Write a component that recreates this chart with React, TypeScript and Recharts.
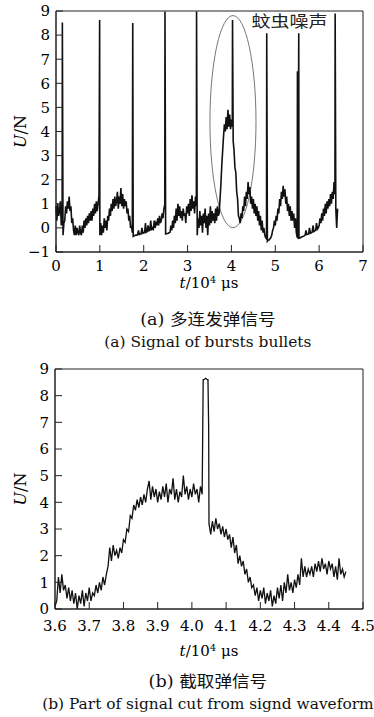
import React from 'react';
import { LineChart, Line, XAxis, YAxis, ReferenceArea, ReferenceDot } from 'recharts';

const burstStart = 0;
const burstStep = 0.02;
const burstU = [
  0.9, 0.3, 1.0, 0.5, 0.7, 1.1, 0.1, 0.4, -0.3, 0.2,
  0.3, 0.9, 0.6, 1.1, 0.8, 1.3, 0.7, 0.9, 0.2, 0.4,
  -0.1, -0.3, 0.1, -0.3, 0.0, -0.2, -0.3, 0.1, -0.2, -0.3,
  0.1, -0.2, 0.3, 0.0, 0.4, 0.1, 0.5, 0.2, 0.6, 0.3,
  0.7, 0.3, 0.8, 0.5, 1.0, 0.6, 1.1, 0.7, 1.0, 1.35,
  -0.3, 0.2, -0.3, 0.1, -0.2, 0.4, 0.0, 0.3, -0.1, 0.5,
  0.3, 0.8, 0.5, 1.0, 0.7, 1.2, 0.8, 1.3, 0.9, 1.1,
  1.5, 0.8, 1.3, 1.0, 1.65, 0.9, 1.4, 0.8, 1.2, 0.9,
  1.1, 0.6, 0.8, 0.3, 0.5, 0.0, 0.1, -0.2, -0.35, -0.33,
  -0.32, -0.3, -0.3, -0.28, -0.1, -0.27, -0.25, -0.25, 0.0, -0.22,
  -0.2, -0.2, 0.2, -0.18, -0.15, 0.1, -0.12, -0.1, 0.3, -0.1,
  0.0, -0.05, 0.3, 0.0, 0.2, 0.1, 0.4, 0.1, 0.5, 0.2,
  0.3, 0.6, 0.4, 0.8, 0.95, -0.25, -0.24, -0.23, -0.22, -0.2,
  -0.18, 0.1, -0.1, 0.3, 0.0, 0.5, 0.2, 0.8, 0.3, 1.0,
  0.5, 0.9, 0.4, 0.7, 0.3, 0.8, 0.5, 0.6, 0.2, 0.9,
  0.6, 1.0, 0.5, 1.2, 0.7, 1.35, 0.8, 1.1, 0.6, 1.3,
  0.9, -0.3, 0.4, 0.0, 0.7, 0.1, 0.5, -0.2, 0.6, 0.2,
  0.8, 0.0, 0.5, -0.3, 0.6, 0.1, 0.9, 0.2, 0.7, 0.3,
  0.6, 0.2, 0.8, 0.3, 0.9, 0.5, 0.6, 1.2, 1.8, 2.6,
  3.2, 3.8, 4.3, 4.0, 4.6, 4.1, 4.9, 4.2, 4.7, 4.1,
  4.5, 4.2, 3.6, 3.2, 2.5, 2.3, 1.5, 1.2, 0.5, 0.4,
  0.2, 0.6, 0.4, 0.9, 0.7, 1.3, 0.9, 1.5, 1.2, 1.9,
  1.4, 1.7, 1.0, 1.3, 0.8, 1.2, 0.6, 1.0, 0.5, 0.9,
  0.3, 0.7, 0.1, 0.5, -0.1, 0.3, -0.2, 0.0, -0.3, -0.4,
  -0.45, -0.55, -0.5, -0.5, -0.45, -0.4, -0.3, -0.1, 0.0, 0.3,
  0.1, 0.5, 0.3, 0.8, 0.6, 1.2, 0.9, 1.5, 1.2, 1.75,
  1.3, 1.6, 1.0, 1.3, 0.7, 1.0, 0.5, 0.9, 0.3, 0.7,
  0.3, 0.6, 0.0, 0.4, -0.2, -0.4, -0.45, -0.43, -0.42, -0.4,
  -0.38, -0.36, -0.35, -0.33, -0.3, -0.1, -0.28, -0.26, -0.25, 0.0,
  -0.22, -0.2, -0.18, 0.1, -0.15, -0.12, -0.1, 0.2, -0.05, 0.0,
  0.1, 0.4, 0.2, 0.6, 0.3, 0.8, 0.5, 1.0, 0.6, 1.1,
  0.8, 1.2, 0.9, 1.4, 1.0, 1.5, 1.2, 1.9, 1.4, 0.8,
  0.0, 0.8,
];
// bullet pulses riding on the burst trace
const pulseT = [0.145, 0.995, 1.75, 2.485, 3.205, 4.025, 4.805, 5.505, 5.535, 6.365];
const pulseU = [8.52, 8.63, 8.5, 8.98, 8.98, 8.63, 8.08, 6.5, 8.08, 8.9];

const cutStart = 3.6;
const cutStep = 0.005;
const cutU = [
  0.1, 0.3, 1.2, 0.6, 1.3, 0.7, 0.9, 0.4, 0.8, 0.3,
  0.7, 0.2, 0.6, 0.0, 0.5, 0.2, 0.7, 0.1, 0.6, 0.3,
  0.8, 0.3, 0.6, 0.5, 0.9, 0.6, 1.0, 0.7, 1.2, 0.9,
  1.3, 1.6, 2.3, 1.8, 2.4, 2.0, 2.2, 1.9, 2.3, 2.1,
  2.6, 2.5, 3.0, 2.9, 3.5, 3.4, 3.9, 3.7, 4.1, 3.8,
  4.2, 3.9, 4.3, 4.0, 4.5, 4.8, 4.1, 4.6, 4.2, 4.5,
  4.0, 4.4, 4.1, 4.6, 4.2, 4.7, 4.0, 4.5, 4.3, 4.9,
  4.1, 4.5, 4.0, 4.4, 4.2, 5.0, 4.3, 4.6, 4.1, 4.5,
  4.2, 4.7, 4.3, 4.5, 4.0, 4.6, 4.3, 8.6, 8.65, 8.6,
  3.2, 2.8, 3.3, 2.9, 3.4, 3.0, 3.2, 2.8, 3.1, 2.7,
  3.0, 2.6, 2.8, 2.3, 2.7, 2.1, 2.4, 1.7, 2.0, 1.6,
  1.8, 1.3, 1.5, 1.0, 1.2, 0.8, 0.9, 0.5, 0.8, 0.3,
  0.7, 0.4, 0.8, 0.2, 0.6, 0.3, 0.7, 0.1, 0.5, 0.2,
  0.8, 0.4, 0.9, 0.3, 1.0, 0.6, 1.3, 0.7, 1.0, 0.6,
  1.1, 0.8, 1.3, 0.9, 1.9, 1.2, 1.6, 1.2, 1.5, 1.3,
  1.6, 1.2, 1.7, 1.4, 1.8, 1.4, 1.9, 1.5, 1.7, 1.3,
  1.8, 1.5, 1.7, 1.2, 1.6, 1.1, 1.9, 1.3, 1.5, 1.2,
  1.4,
];
// square edges of the bullet pulse
const cutEdgeT = [4.033, 4.047, 4.049];
const cutEdgeU = [8.6, 8.6, 6.8];

const burstXTicks = [0, 1, 2, 3, 4, 5, 6, 7];
const burstYTicks = [-1, 0, 1, 2, 3, 4, 5, 6, 7, 8, 9];
const cutXTicks = [3.6, 3.7, 3.8, 3.9, 4.0, 4.1, 4.2, 4.3, 4.4, 4.5];
const cutYTicks = [0, 1, 2, 3, 4, 5, 6, 7, 8, 9];

// mosquito noise ring and its note
const noiseT = [3.51, 4.56];
const noiseU = [0.01, 8.81];
const noiseNoteT = 4.46;
const noiseNoteU = 8.63;
const noiseNote = '蚊虫噪声';

const captionA = ['(a) 多连发弹信号', '(a) Signal of bursts bullets'];
const captionB = ['(b) 截取弹信号', '(b) Part of signal cut from signd waveform'];

const buildSeries = (start: number, step: number, values: number[], extraT: number[], extraU: number[]) => {
  const pts = values.map((u, i) => ({ t: +(start + i * step).toFixed(4), u }));
  extraT.forEach((t, i) => pts.push({ t, u: extraU[i] }));
  return pts.sort((a, b) => a.t - b.t);
};

const burstData = buildSeries(burstStart, burstStep, burstU, pulseT, pulseU);
const cutData = buildSeries(cutStart, cutStep, cutU, cutEdgeT, cutEdgeU);

const SERIF = '"DejaVu Serif", "Liberation Serif", "DejaVu Sans", serif';
const CJK = '"DejaVu Serif", "Liberation Serif", "Noto Sans CJK SC", serif';
const INK = '#222';

const tickStyle = { fontFamily: SERIF, fontSize: 15, fill: '#000' };

const yTitle = (props: any) => {
  const vb = props.viewBox || {};
  const x = vb.x + 20;
  const cy = vb.y + vb.height / 2;
  return (
    <text
      x={x}
      y={cy}
      transform={`rotate(-90 ${x} ${cy})`}
      textAnchor="middle"
      dominantBaseline="central"
      fontFamily={SERIF}
      fontSize={16}
      fill="#000"
    >
      <tspan fontStyle="italic">U</tspan>
      <tspan>/N</tspan>
    </text>
  );
};

const XTitle = ({ top }: { top: number }) => (
  <div style={{ position: 'absolute', left: 109, top, width: 200, textAlign: 'center', fontFamily: SERIF, fontSize: 15, lineHeight: '18px', color: '#000' }}>
    <i>t</i>/10<sup style={{ fontSize: 10, verticalAlign: '5px', lineHeight: 0 }}>4</sup> μs
  </div>
);

const Caption = ({ lines, top }: { lines: string[]; top: number }) => (
  <div style={{ position: 'absolute', left: 0, top, width: 416, textAlign: 'center', fontFamily: CJK, lineHeight: '23px', color: '#111', transform: 'scaleX(1.1)', transformOrigin: '0 0', whiteSpace: 'nowrap' }}>
    <div style={{ width: 378, fontSize: 16 }}>{lines[0]}</div>
    <div style={{ width: 378, fontSize: 14 }}>{lines[1]}</div>
  </div>
);

const fmtBurst = (v: number) => (v < 0 ? `\u2212${Math.abs(v)}` : String(v));
const fmtCut = (v: number) => v.toFixed(1);

export default function App() {
  return (
    <div style={{ position: 'relative', width: 374, height: 717, background: '#fff', overflow: 'hidden' }}>
      <style>{'body{margin:0}'}</style>

      <div style={{ position: 'absolute', left: 0, top: 0 }}>
        <LineChart width={374} height={300} data={burstData} margin={{ top: 11, right: 11, bottom: 0, left: 0 }}>
          <XAxis
            dataKey="t"
            type="number"
            domain={[0, 7]}
            ticks={burstXTicks}
            interval={0}
            height={48}
            tickSize={-7}
            tickMargin={15}
            tick={tickStyle}
            axisLine={{ stroke: INK }}
            tickLine={{ stroke: INK }}
          />
          <YAxis
            type="number"
            domain={[-1, 9]}
            ticks={burstYTicks}
            interval={0}
            width={56}
            tickSize={-7}
            tickMargin={13}
            tick={tickStyle}
            tickFormatter={fmtBurst}
            axisLine={{ stroke: INK }}
            tickLine={{ stroke: INK }}
            label={{ content: yTitle }}
          />
          <ReferenceArea x1={0} x2={7} y1={-1} y2={9} fill="none" stroke={INK} strokeWidth={1} fillOpacity={0} />
          <ReferenceArea
            x1={noiseT[0]}
            x2={noiseT[1]}
            y1={noiseU[0]}
            y2={noiseU[1]}
            shape={(p: any) => (
              <ellipse
                cx={p.x + p.width / 2}
                cy={p.y + p.height / 2}
                rx={p.width / 2}
                ry={p.height / 2}
                fill="none"
                stroke="#777"
                strokeWidth={1}
              />
            )}
          />
          <Line type="linear" dataKey="u" stroke="#111" strokeWidth={1.6} dot={false} isAnimationActive={false} />
          <ReferenceDot
            x={noiseNoteT}
            y={noiseNoteU}
            r={0}
            shape={(p: any) => (
              <text
                x={p.cx}
                y={p.cy}
                dominantBaseline="central"
                fontFamily='"Noto Sans CJK SC", sans-serif'
                fontSize={16}
                textLength={76}
                lengthAdjust="spacingAndGlyphs"
                fill="#222"
              >
                {noiseNote}
              </text>
            )}
          />
        </LineChart>
      </div>
      <XTitle top={274} />
      <Caption lines={captionA} top={308} />

      <div style={{ position: 'absolute', left: 0, top: 358 }}>
        <LineChart width={374} height={300} data={cutData} margin={{ top: 11, right: 11, bottom: 0, left: 0 }}>
          <XAxis
            dataKey="t"
            type="number"
            domain={[3.6, 4.5]}
            ticks={cutXTicks}
            interval={0}
            height={49}
            tickSize={-7}
            tickMargin={18}
            tick={tickStyle}
            tickFormatter={fmtCut}
            axisLine={{ stroke: INK }}
            tickLine={{ stroke: INK }}
          />
          <YAxis
            type="number"
            domain={[0, 9]}
            ticks={cutYTicks}
            interval={0}
            width={55}
            tickSize={-7}
            tickMargin={13}
            tick={tickStyle}
            axisLine={{ stroke: INK }}
            tickLine={{ stroke: INK }}
            label={{ content: yTitle }}
          />
          <ReferenceArea x1={3.6} x2={4.5} y1={0} y2={9} fill="none" stroke={INK} strokeWidth={1} fillOpacity={0} />
          <Line type="linear" dataKey="u" stroke="#111" strokeWidth={1.3} dot={false} isAnimationActive={false} />
        </LineChart>
      </div>
      <XTitle top={642} />
      <Caption lines={captionB} top={670} />
    </div>
  );
}
